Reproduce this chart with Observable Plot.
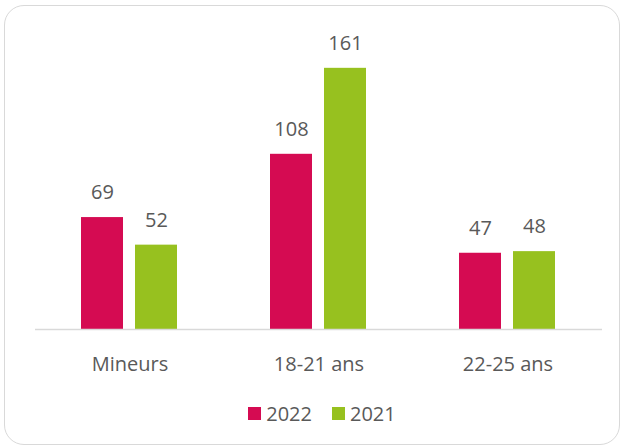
<!DOCTYPE html>
<html><head><meta charset="utf-8">
<script src="https://cdn.jsdelivr.net/npm/d3@7"></script>
<script src="https://cdn.jsdelivr.net/npm/@observablehq/plot@0.6"></script>
<style>
body{margin:0;background:#fff;font-family:"Open Sans",sans-serif;}
#wrap{position:relative;width:624px;height:448px;overflow:hidden;background:#fff}
#frame{position:absolute;left:4px;top:5px;width:616px;height:440px;border:1.5px solid #d9d9d9;border-radius:20px;box-sizing:border-box}
#chart{position:absolute;left:0;top:0}
#legend{position:absolute;left:0;top:400px;width:624px;height:26px;display:flex;justify-content:center;align-items:center;padding-left:20px;box-sizing:border-box;font-size:20px;color:#595959}
.item{display:flex;align-items:center;margin:0 10px}
.sw{width:13px;height:13px;margin-right:5px}
</style>
</head><body>
<div id="wrap"><div id="frame"></div><div id="chart"></div><div id="legend"></div></div>
<script>
const categories = ["Mineurs", "18-21 ans", "22-25 ans"];
const series = ["2022", "2021"];
const values2022 = [69, 108, 47];
const values2021 = [52, 161, 48];
const colors = ["#D50B52", "#97C11F"];

const table = [];
categories.forEach((c, i) => {
  table.push({category: c, series: "2022", value: values2022[i]});
  table.push({category: c, series: "2021", value: values2021[i]});
});

const chart = Plot.plot({
  width: 624,
  height: 390,
  marginLeft: 35,
  marginRight: 22,
  marginTop: 37,
  marginBottom: 61,
  style: {fontFamily: "'Open Sans', sans-serif", fontSize: "20px", color: "#595959", background: "transparent"},
  facet: {data: table, x: "category"},
  fx: {domain: categories, padding: 0, label: null, tickSize: 0, tickPadding: 27},
  x: {domain: series, paddingInner: 0.222, paddingOuter: 0.861, axis: null},
  y: {domain: [0, 180], axis: null},
  color: {domain: series, range: colors},
  marks: [
    Plot.barY(table, {x: "series", y: "value", fill: "series"}),
    Plot.text(table, {x: "series", y: "value", text: d => String(d.value), dy: -25, lineAnchor: "middle", fill: "#595959", fontSize: 20}),
    Plot.ruleY([0], {stroke: "#d9d9d9", strokeWidth: 1.5})
  ]
});
document.getElementById("chart").appendChild(chart);

const legend = document.getElementById("legend");
series.forEach((s, i) => {
  const it = document.createElement("div");
  it.className = "item";
  const sw = document.createElement("div");
  sw.className = "sw";
  sw.style.background = colors[i];
  const t = document.createElement("span");
  t.textContent = s;
  it.appendChild(sw); it.appendChild(t);
  legend.appendChild(it);
});
</script>
</body></html>
